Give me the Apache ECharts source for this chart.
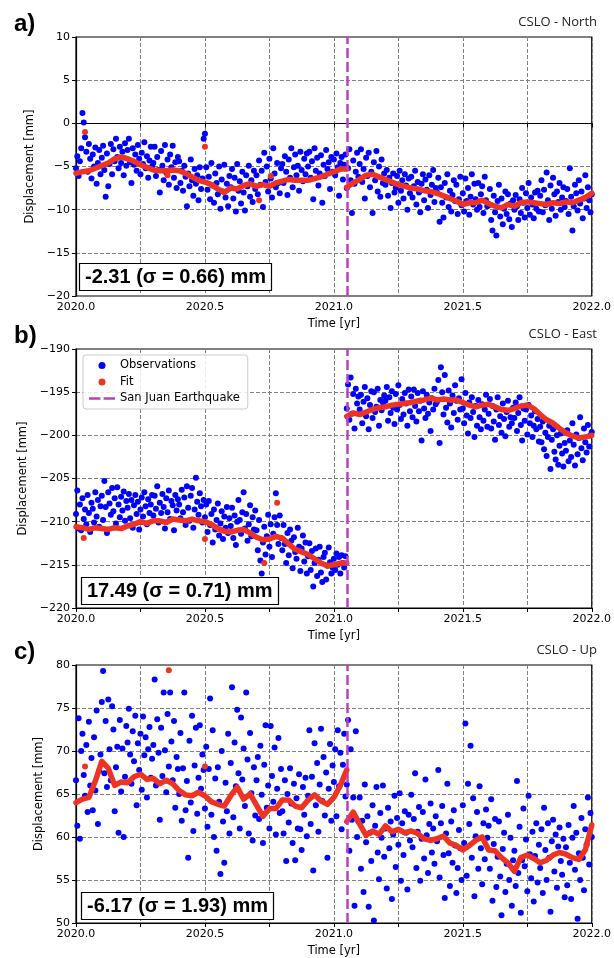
<!DOCTYPE html>
<html>
<head>
<meta charset="utf-8"/>
<title>CSLO displacement</title>
<script src="https://cdn.jsdelivr.net/npm/echarts@6/dist/echarts.min.js"></script>
<style>html, body { margin: 0; padding: 0; background: #fff; }</style>
</head>
<body>
<div id="main" style="width: 614px; height: 958px"></div>
<script type="text/javascript">
// observations: one value every 0.005 yr from 2020.0 to 2022.0 (401 values)
var obsStart = 2020.0, obsStep = 0.005;
// fit: one value every 0.025 yr; pre-quake part ends and post-quake part starts at the quake
var fitStart = 2020.0, fitStep = 0.025;
var quakeTime = 2021.05;
var xTicks = [2020.0, 2020.5, 2021.0, 2021.5, 2022.0];

// ---- CSLO - North ----
var northObs = [
    -5.2, -3.8, -6.1, -4.4, -2.9, 1.2, 0.1, -1.6, -3.3, -5.6, -2.4, -4.1, -6.4, -3.6, -5.0, -2.8, -7.0, -4.6, -3.1, -5.9,
    -4.0, -2.6, -5.4, -8.5, -3.5, -7.3, -4.7, -2.4, -5.9, -3.0, -4.4, -1.8, -3.9, -5.2, -2.7, -4.6, -3.3, -6.0, -2.3, -4.9,
    -3.1, -1.8, -4.5, -6.9, -2.9, -4.8, -3.6, -5.5, -2.5, -4.1, -5.9, -3.4, -4.7, -2.2, -5.2, -3.8, -6.3, -4.3, -2.7, -5.0,
    -4.6, -2.7, -6.1, -3.9, -5.4, -8.0, -3.2, -4.9, -6.6, -2.5, -5.7, -4.2, -7.1, -3.6, -5.1, -2.6, -6.3, -4.5, -7.5, -3.9,
    -4.4, -6.9, -5.5, -7.8, -4.9, -6.2, -9.6, -5.8, -7.3, -4.2, -6.6, -8.4, -5.3, -7.0, -6.0, -8.9, -5.1, -7.6, -6.4, -1.8,
    -1.2, -5.1, -7.7, -6.2, -8.8, -4.6, -7.2, -9.2, -5.8, -6.9, -8.2, -5.0, -9.9, -6.5, -7.9, -4.8, -8.6, -7.0, -9.6, -6.1,
    -7.4, -5.3, -8.7, -6.3, -10.2, -4.7, -7.8, -6.7, -9.3, -5.6, -8.0, -10.1, -6.0, -7.3, -4.9, -8.5, -6.6, -9.1, -5.5, -7.6,
    -6.0, -8.2, -4.3, -7.1, -5.5, -9.7, -3.4, -6.8, -5.0, -7.9, -4.1, -6.4, -8.6, -2.9, -5.8, -7.4, -4.6, -6.9, -8.1, -5.2,
    -4.7, -6.9, -3.8, -5.6, -8.3, -4.2, -6.3, -2.9, -7.4, -5.1, -3.6, -6.0, -4.9, -7.8, -3.3, -5.4, -6.7, -4.1, -5.9, -3.5,
    -5.0, -3.3, -6.3, -4.4, -8.8, -2.9, -5.5, -4.0, -7.2, -5.8, -3.7, -9.2, -4.8, -6.1, -3.1, -5.3, -4.5, -7.6, -3.9, -5.6,
    -4.2, -6.0, -3.5, -5.1, -8.4, -4.6, -3.9, -6.5, -4.8, -3.6,
    -7.5, -5.2, -3.0, -6.6, -10.4, -4.3, -7.0, -5.6, -3.4, -6.2,
    -4.7, -3.0, -6.8, -5.3, -8.7, -4.0, -6.1, -3.4, -7.4, -5.6, -10.4, -4.5, -6.6, -3.2, -7.9, -5.0, -8.5, -4.2, -6.9, -5.8,
    -7.1, -5.4, -8.4, -6.3, -9.8, -6.9, -5.8, -8.0, -7.5, -6.1, -9.2, -5.5, -7.8, -6.6, -8.7, -5.9, -7.2, -10.0, -6.4, -8.1,
    -6.2, -8.6, -7.3, -5.5, -9.4, -6.8, -8.0, -10.3, -7.0, -5.9, -8.9, -6.5, -7.7, -9.8, -6.0, -8.3, -7.1, -5.4, -9.1, -7.5,
    -8.0, -6.3, -11.4, -7.4, -9.2, -10.9, -6.9, -8.6, -5.9, -9.7, -7.8, -10.2, -8.3, -6.6, -9.0, -7.1, -10.5, -8.8, -6.2, -9.5,
    -8.1, -10.2, -6.4, -9.0, -7.5, -10.6, -8.5, -5.9, -9.4, -7.0, -8.8, -10.0, -6.9, -9.7, -8.2, -7.3, -10.4, -6.2, -8.9, -9.6,
    -9.5, -7.6, -11.2, -12.4, -8.4, -10.3, -13.0, -9.0, -7.1, -10.8, -8.7, -11.7, -9.9, -7.9, -10.5, -8.2, -11.1, -9.3, -12.0, -8.9,
    -10.0, -8.3, -9.6, -11.2, -8.8, -10.4, -7.5, -9.2, -10.9, -8.1, -9.8, -6.9, -10.6, -8.6, -9.4, -11.0, -8.0, -9.9, -7.8, -10.2,
    -8.4, -6.6, -10.3, -7.7, -9.5, -5.7, -8.9, -11.2, -7.2, -9.9, -6.3, -8.2, -10.7, -7.9, -9.1, -6.9, -10.0, -8.6, -7.4, -9.7,
    -9.0, -7.6, -10.5, -5.2, -8.5, -12.4, -9.6, -7.1, -8.1, -10.1, -6.6, -9.3, -7.9, -11.0, -8.7, -6.0, -9.8, -7.4, -8.9, -10.3,
    -8.2
];
var northFitPre = [
    -5.8, -5.6, -5.5, -5.2, -4.9, -4.6, -4.1, -3.9, -4.1, -4.4,
    -4.8, -5.1, -5.4, -5.5, -5.5, -5.4, -5.5, -5.8, -6.2, -6.6,
    -6.8, -7.1, -7.6, -8.0, -7.5, -7.6, -7.2, -7.0, -7.3, -7.1,
    -7.3, -6.9, -6.7, -6.5, -6.6, -6.6, -6.6, -6.4, -6.2, -5.9,
    -5.6, -5.3, -5.3
];
var northFitPost = [
    -7.4, -6.9, -6.5, -6.0, -5.9, -6.2, -6.5, -6.8, -7.1, -7.3,
    -7.5, -7.6, -7.8, -7.9, -8.1, -8.4, -8.7, -9.0, -9.4, -9.2,
    -9.2, -8.9, -9.3, -9.6, -9.8, -9.4, -9.6, -9.2, -9.1, -9.2,
    -9.3, -9.4, -9.2, -9.3, -9.1, -9.2, -8.9, -8.6, -8.1
];
var northFitExtra = [[2020.035, -1.0], [2020.355, -6.0], [2020.5, -2.7], [2020.71, -8.9], [2020.755, -6.1]];

// ---- CSLO - East ----
var eastObs = [
    -209.1, -206.4, -210.8, -208.0, -211.0, -207.3, -209.7, -208.6, -210.3, -206.9, -209.0, -211.2, -207.8, -208.5, -210.1, -206.6, -209.4, -207.5, -210.6, -208.2,
    -207.0, -209.8, -205.3, -208.3, -211.3, -206.6, -207.9, -209.2, -206.1, -208.8, -207.3, -210.2, -206.0, -208.0, -209.5, -207.1, -208.7, -206.5, -209.9, -207.6,
    -208.4, -206.8, -209.6, -207.5, -210.7, -208.1, -206.9, -209.1, -207.7, -210.9, -208.6, -207.2, -209.4, -206.6, -208.2, -210.3, -207.4, -209.0, -208.0, -206.9,
    -209.3, -207.0, -208.5, -205.9, -210.1, -207.8, -209.0, -206.8, -208.3, -210.8, -207.3, -208.9, -206.4, -209.7, -207.6, -208.1, -211.0, -206.9, -208.7, -207.4,
    -208.0, -209.6, -206.3, -208.9, -207.2, -210.4, -205.9, -208.4, -209.9, -207.0, -206.1, -210.7, -208.6, -204.9, -207.7, -209.2, -206.7, -208.2, -210.1, -207.5,
    -209.5, -208.0, -211.2, -207.6, -210.4, -209.1, -212.4, -208.6, -210.9, -209.8, -207.9, -211.6, -210.2, -208.8, -212.0, -209.4, -210.7, -208.3, -211.3, -209.6,
    -210.5, -208.4, -211.9, -209.3, -212.7, -210.0, -207.5, -209.8, -211.4, -208.9, -206.6, -210.8, -209.1, -212.2, -210.3, -208.1, -211.7, -209.5, -210.9, -208.7,
    -211.0, -213.3, -209.8, -214.5, -216.0, -212.4, -210.6, -213.8, -211.7, -209.2, -212.9, -210.3, -214.1, -211.4, -209.5, -206.7, -210.4, -212.6, -209.3, -211.9,
    -213.3, -210.4, -212.6, -214.8, -211.3, -213.9, -210.9, -212.2, -215.4, -211.8, -213.5, -214.3, -210.7, -212.9, -215.7, -213.1, -211.6, -214.6, -212.4, -216.0,
    -214.0, -212.5, -215.6, -213.4, -217.5, -214.8, -213.1, -216.3, -214.4, -212.9, -215.9, -217.0, -214.1, -213.6, -216.7, -215.1, -213.0, -214.7, -216.0, -215.3,
    -214.3, -215.6, -213.7, -215.0, -214.1, -216.0, -213.9, -214.8, -215.3, -214.0,
    -196.9, -194.1, -198.2, -193.3, -197.5, -195.2, -199.2, -194.6, -196.3, -195.5,
    -197.0, -195.3, -198.6, -196.1, -194.4, -197.8, -195.7, -199.3, -196.5, -194.9, -198.0, -195.0, -197.3, -196.7, -194.6, -198.9, -195.9, -197.1, -196.2, -195.4,
    -196.0, -194.4, -198.3, -195.6, -197.4, -194.9, -196.8, -198.7, -195.2, -197.0, -194.2, -196.5, -198.1, -195.8, -197.6, -195.1, -196.3, -198.9, -194.7, -197.2,
    -195.5, -197.9, -194.7, -196.6, -198.4, -195.1, -197.2, -196.0, -200.6, -194.9, -196.9, -198.0, -195.3, -197.5, -196.2, -199.5, -195.7, -197.0, -194.6, -196.4,
    -196.1, -193.6, -200.9, -192.1, -195.0, -197.6, -193.0, -196.8, -198.5, -194.8, -196.3, -199.1, -195.4, -197.4, -194.2, -196.0, -198.2, -195.7, -197.0, -193.5,
    -196.9, -198.6, -195.1, -197.7, -199.8, -196.2, -198.0, -195.6, -197.3, -200.2, -196.6, -198.9, -195.9, -197.9, -199.3, -196.4, -198.3, -197.0, -195.3, -199.0,
    -197.5, -195.8, -199.2, -196.6, -198.4, -200.5, -197.0, -195.6, -198.8, -197.8, -199.7, -196.3, -198.1, -200.1, -197.3, -196.0, -199.0, -197.9, -198.6, -196.8,
    -198.0, -196.2, -199.5, -197.4, -195.6, -198.8, -200.6, -196.9, -198.3, -197.0, -199.9, -196.5, -198.6, -197.7, -200.2, -198.9, -197.2, -199.3, -198.1, -200.7,
    -199.0, -200.8, -198.4, -201.6, -199.7, -202.4, -200.2, -198.9, -203.9, -200.5, -199.3, -201.9, -202.8, -200.0, -203.4, -201.2, -199.8, -202.1, -203.6, -200.9,
    -201.8, -199.4, -203.0, -200.6, -202.5, -198.6, -201.1, -203.5, -199.9, -202.2, -200.3, -197.9, -201.5, -202.9, -199.2, -200.8, -202.0, -198.8, -201.3, -200.0,
    -199.6
];
var eastFitPre = [
    -210.6, -210.7, -210.9, -210.7, -210.8, -210.9, -210.7, -210.8, -210.5, -210.3,
    -210.0, -210.2, -209.9, -209.9, -210.1, -209.7, -209.8, -209.9, -209.7, -209.9,
    -210.0, -210.3, -210.8, -211.1, -211.2, -211.0, -210.9, -211.3, -211.8, -212.1,
    -212.0, -211.7, -211.9, -212.6, -213.2, -213.5, -213.8, -214.3, -214.8, -215.1,
    -215.0, -214.8, -214.8
];
var eastFitPost = [
    -197.8, -197.4, -197.6, -197.3, -197.0, -196.8, -196.7, -196.5, -196.4, -196.3,
    -196.2, -196.0, -195.9, -195.7, -195.9, -195.8, -195.9, -195.9, -196.2, -196.5,
    -196.7, -196.5, -196.4, -196.7, -197.0, -197.1, -196.9, -196.6, -196.5, -196.9,
    -197.6, -198.2, -198.6, -199.2, -199.7, -200.1, -200.3, -200.2, -200.0
];
var eastFitExtra = [[2020.03, -211.9], [2020.5, -212.0], [2020.73, -214.8], [2020.78, -207.8]];

// ---- CSLO - Up ----
var upObs = [
    66.6, 61.3, 73.8, 59.8, 70.0, 72.0, 67.2, 64.8, 70.7, 62.9, 73.4, 66.0, 69.2, 63.1, 71.6, 65.4, 74.7, 61.5, 67.7, 69.6,
    75.7, 79.3, 67.4, 73.5, 65.8, 76.0, 70.2, 66.6, 75.2, 72.5, 63.0, 68.1, 70.5, 60.5, 73.6, 65.3, 70.3, 60.0, 67.0, 72.9,
    71.0, 74.9, 69.6, 66.2, 72.3, 68.8, 74.1, 63.7, 70.9, 67.8, 72.0, 65.5, 74.0, 69.5, 71.6, 64.6, 70.2, 72.8, 66.9, 69.1,
    70.7, 78.3, 66.0, 73.7, 69.8, 62.0, 72.7, 67.1, 76.8, 70.1, 65.2, 74.3, 68.2, 76.8, 71.1, 66.6, 73.5, 63.4, 69.3, 67.9,
    65.0, 72.1, 61.9, 68.0, 76.8, 63.1, 66.5, 57.6, 71.2, 64.0, 74.1, 60.7, 68.3, 72.7, 62.7, 66.9, 73.0, 65.6, 69.6, 67.8,
    63.3, 70.5, 61.2, 67.9, 76.1, 62.6, 72.4, 60.0, 66.8, 58.4, 68.1, 64.1, 55.7, 70.0, 61.8, 57.0, 66.3, 63.0, 72.0, 60.4,
    68.6, 77.4, 62.3, 71.0, 65.9, 74.8, 67.4, 61.0, 73.9, 66.7, 70.3, 63.6, 76.8, 69.0, 60.4, 72.1, 65.1, 59.6, 68.1, 62.5,
    66.6, 69.3, 62.1, 70.6, 64.9, 59.3, 68.4, 73.0, 63.4, 66.0, 61.0, 72.9, 67.1, 64.1, 70.4, 60.3, 65.6, 71.5, 62.8, 67.9,
    63.0, 60.4, 66.6, 57.2, 65.0, 61.7, 68.0, 63.9, 59.3, 66.2, 57.3, 64.5, 61.0, 67.3, 60.9, 58.5, 65.8, 62.6, 66.9, 60.1,
    64.8, 72.4, 61.5, 67.0, 56.1, 70.9, 63.7, 68.6, 60.6, 66.1, 72.6, 64.2, 69.3, 62.5, 67.5, 57.6, 65.6, 70.8, 61.9, 68.3,
    66.4, 70.2, 62.4, 72.4, 65.9, 69.8, 60.9, 68.4, 72.0, 64.7,
    66.1, 73.6, 58.4, 70.2, 62.0, 64.6, 52.0, 72.3, 60.0, 61.8,
    64.6, 56.3, 61.9, 53.6, 66.1, 59.4, 62.4, 51.9, 60.5, 57.2, 63.7, 50.3, 61.3, 65.8, 58.2, 55.1, 62.8, 59.9, 66.0, 57.7,
    61.0, 54.0, 63.4, 58.7, 61.8, 52.8, 60.3, 64.8, 56.5, 62.2, 59.1, 65.1, 54.9, 61.6, 57.9, 63.0, 60.5, 53.9, 62.6, 59.6,
    64.9, 58.8, 62.1, 67.4, 56.4, 60.6, 63.5, 54.9, 59.8, 62.9, 57.5, 66.7, 60.2, 55.8, 61.5, 63.9, 58.2, 61.0, 56.9, 62.4,
    59.5, 67.8, 55.3, 61.6, 63.6, 57.9, 52.9, 60.4, 66.2, 58.1, 54.3, 61.8, 57.0, 63.1, 59.0, 53.5, 56.4, 60.8, 58.7, 55.0,
    63.7, 59.3, 73.2, 55.5, 66.2, 61.5, 70.6, 57.6, 64.5, 53.1, 60.1, 62.9, 56.3, 65.9, 58.7, 54.5, 61.6, 57.4, 63.2, 59.9,
    61.3, 56.3, 64.4, 52.6, 59.2, 62.1, 54.2, 57.7, 61.8, 55.4, 50.9, 58.6, 60.5, 53.6, 56.9, 62.6, 55.0, 59.9, 52.0, 57.3,
    58.4, 54.3, 66.5, 55.8, 61.2, 51.2, 57.3, 63.3, 56.6, 59.7, 53.7, 64.8, 58.0, 55.2, 60.6, 52.5, 57.8, 61.6, 54.7, 59.1,
    56.4, 60.9, 53.5, 63.4, 58.5, 55.0, 61.6, 57.6, 51.3, 59.5, 62.0, 56.0, 60.3, 54.1, 58.9, 61.1, 57.2, 55.6, 59.8, 53.0,
    58.8, 54.4, 61.4, 57.0, 52.8, 59.9, 63.6, 56.2, 60.5, 50.5, 58.1, 55.0, 62.2, 57.6, 53.8, 60.9, 59.1, 64.6, 56.8, 62.8,
    60.0
];
var upFitPre = [
    64.0, 64.4, 64.6, 66.5, 68.8, 68.0, 66.0, 66.4, 66.3, 67.0,
    67.3, 66.7, 66.8, 66.2, 66.6, 66.2, 65.4, 64.9, 64.8, 65.2,
    64.8, 64.1, 63.8, 63.6, 64.8, 65.8, 64.4, 65.0, 63.7, 62.4,
    63.3, 63.3, 64.3, 64.3, 63.6, 63.4, 64.3, 64.9, 64.2, 63.8,
    64.6, 66.0, 67.8
];
var upFitPost = [
    61.8, 62.9, 61.5, 60.2, 60.7, 60.3, 61.3, 60.6, 60.9, 60.5,
    60.7, 60.4, 59.8, 59.6, 59.8, 60.1, 59.3, 59.0, 58.5, 59.0,
    59.6, 60.0, 58.5, 58.4, 57.6, 57.0, 56.0, 57.6, 57.9, 57.5,
    57.0, 57.3, 57.9, 58.2, 58.0, 57.6, 57.4, 58.5, 61.4
];
var upFitExtra = [[2020.035, 68.2], [2020.36, 79.4], [2020.5, 68.2]];

var panels = [
    {letter: 'a)', name: 'CSLO - North', top: 37, yMin: -20, yMax: 10, nameGap: 31,
     box: '-2.31 (σ = 0.66) mm', boxLeft: 79, boxTop: 263,
     obs: northObs, fitPre: northFitPre, fitPost: northFitPost, fitExtra: northFitExtra},
    {letter: 'b)', name: 'CSLO - East', top: 349, yMin: -220, yMax: -190, nameGap: 37,
     box: '17.49 (σ = 0.71) mm', boxLeft: 81, boxTop: 577,
     obs: eastObs, fitPre: eastFitPre, fitPost: eastFitPost, fitExtra: eastFitExtra},
    {letter: 'c)', name: 'CSLO - Up', top: 665, yMin: 50, yMax: 80, nameGap: 21,
     box: '-6.17 (σ = 1.93) mm', boxLeft: 81, boxTop: 892,
     obs: upObs, fitPre: upFitPre, fitPost: upFitPost, fitExtra: upFitExtra}
];

var blue = '#0000ff', red = '#ee3322', magenta = '#bf3fbf';
var tickFont = 'DejaVu Sans';
var quakeIdx = Math.round((quakeTime - fitStart) / fitStep);

function obsPairs(values) {
    return values.map(function (v, i) { return [+(obsStart + i * obsStep).toFixed(3), v]; });
}
function fitPairs(values, first) {
    return values.map(function (v, i) { return [+(fitStart + (first + i) * fitStep).toFixed(3), v]; });
}
function yLabel(v) { return v < 0 ? '\u2212' + Math.abs(v) : String(v); }
function xLabel(v) {
    for (var k = 0; k < xTicks.length; k++) {
        if (Math.abs(v - xTicks[k]) < 1e-6) return v.toFixed(1);
    }
    return '';
}

var grids = [], xAxes = [], yAxes = [], series = [], titles = [];
panels.forEach(function (p, i) {
    grids.push({left: 76, width: 521, top: p.top, height: 259, show: true,
        borderColor: '#000', borderWidth: 1.2, backgroundColor: 'transparent'});
    xAxes.push({
        type: 'value', gridIndex: i, min: 2020, max: 2022, interval: 0.25,
        name: 'Time [yr]', nameLocation: 'middle', nameGap: 22,
        nameTextStyle: {fontFamily: tickFont, fontSize: 11.5, color: '#000'},
        axisLine: {lineStyle: {color: '#000', width: 1.2}},
        axisTick: {show: true, length: 4, lineStyle: {color: '#000', width: 1}},
        axisLabel: {formatter: xLabel, fontFamily: tickFont, fontSize: 11, color: '#000', margin: 6,
            showMinLabel: true, showMaxLabel: true},
        splitLine: {show: true, lineStyle: {color: '#808080', width: 1, type: [4, 2]}}
    });
    yAxes.push({
        type: 'value', gridIndex: i, min: p.yMin, max: p.yMax, interval: 5,
        name: 'Displacement [mm]', nameLocation: 'middle', nameGap: p.nameGap,
        nameTextStyle: {fontFamily: tickFont, fontSize: 11.5, color: '#000'},
        axisLine: {show: true, lineStyle: {color: '#000', width: 1.2}},
        axisTick: {show: true, length: 4, lineStyle: {color: '#000', width: 1}},
        axisLabel: {formatter: yLabel, fontFamily: tickFont, fontSize: 11, color: '#000', margin: 6},
        splitLine: {show: true, lineStyle: {color: '#808080', width: 1, type: [4, 2]}}
    });
    series.push({
        name: 'Observations', type: 'scatter', xAxisIndex: i, yAxisIndex: i,
        symbolSize: 6, itemStyle: {color: blue, opacity: 1}, data: obsPairs(p.obs), z: 2
    });
    [fitPairs(p.fitPre, 0), fitPairs(p.fitPost, quakeIdx)].forEach(function (d) {
        series.push({
            name: 'Fit', type: 'line', xAxisIndex: i, yAxisIndex: i, color: red,
            showSymbol: false, symbol: 'none', data: d, z: 3,
            lineStyle: {color: red, width: 5.5, cap: 'round', join: 'round'}
        });
    });
    series.push({
        name: 'Fit', type: 'scatter', xAxisIndex: i, yAxisIndex: i,
        symbolSize: 6, itemStyle: {color: red, opacity: 1}, data: p.fitExtra, z: 3
    });
    series.push({
        name: 'San Juan Earthquake', type: 'line', xAxisIndex: i, yAxisIndex: i, color: magenta,
        data: [], z: 4,
        markLine: {silent: true, symbol: 'none', label: {show: false},
            lineStyle: {color: magenta, width: 2.5, type: [10, 4]},
            data: [{xAxis: quakeTime}]}
    });
    titles.push({text: p.letter, left: 14, top: p.top - 25, padding: 0,
        textStyle: {fontFamily: 'Liberation Sans', fontWeight: 'bold', fontSize: 24, color: '#000'}});
    titles.push({text: p.name, right: 17, top: p.top - 21, padding: 0,
        textStyle: {fontFamily: 'Open Sans', fontWeight: 'normal', fontSize: 13, color: '#222'}});
    titles.push({text: p.box, left: p.boxLeft, top: p.boxTop, padding: [3, 6],
        borderColor: '#000', borderWidth: 1.2, backgroundColor: '#fff',
        textStyle: {fontFamily: 'Liberation Sans', fontWeight: 'bold', fontSize: 20, lineHeight: 22, color: '#000'}});
});

var myChart = echarts.init(document.getElementById('main'));
myChart.setOption({
    animation: false,
    backgroundColor: '#fff',
    title: titles,
    grid: grids,
    xAxis: xAxes,
    yAxis: yAxes,
    legend: {
        left: 83, top: 355, orient: 'vertical', padding: [4, 8, 4, 6],
        itemWidth: 26, itemHeight: 7, itemGap: 3.5,
        backgroundColor: 'rgba(255,255,255,0.85)', borderColor: '#cccccc', borderWidth: 1, borderRadius: 3,
        textStyle: {fontFamily: tickFont, fontSize: 11.5, lineHeight: 13, color: '#000'},
        data: [
            {name: 'Observations', icon: 'circle'},
            {name: 'Fit', icon: 'circle'},
            {name: 'San Juan Earthquake', icon: 'path://M0,0L11,0L11,2.5L0,2.5Z M14,0L25,0L25,2.5L14,2.5Z'}
        ]
    },
    series: series
});
</script>
</body>
</html>
